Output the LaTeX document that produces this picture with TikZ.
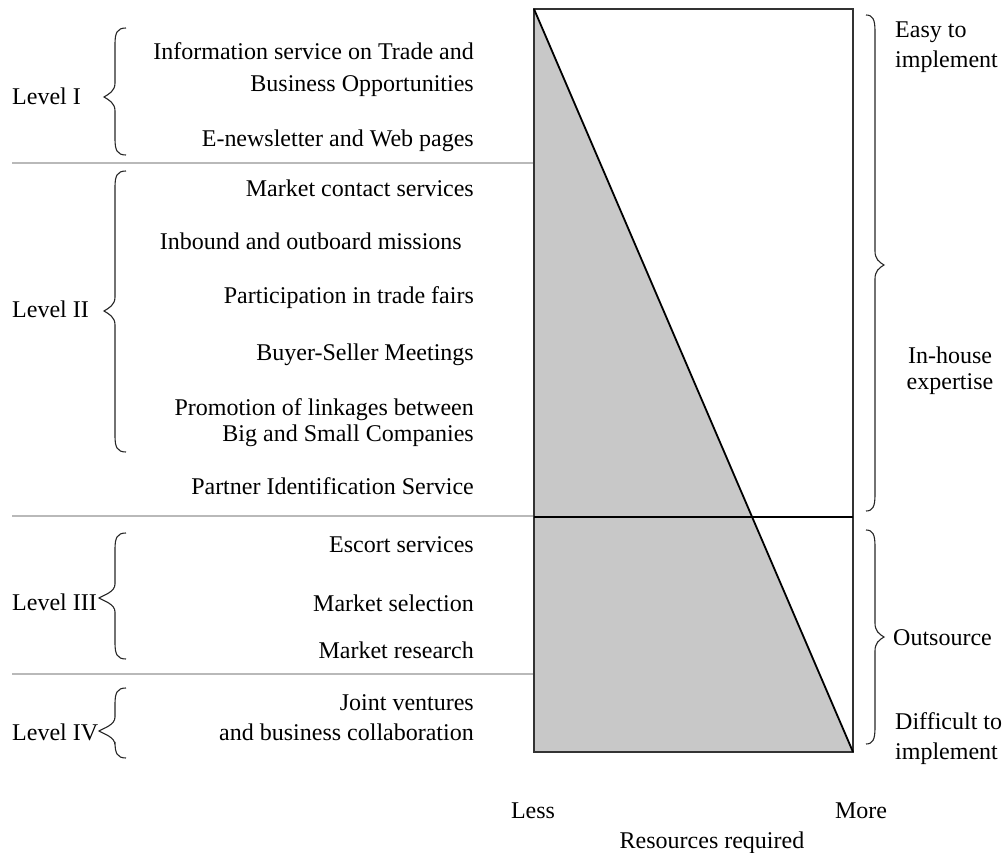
\documentclass[tikz,border=0pt]{standalone}
\usepackage{fontspec}
\setmainfont{Liberation Serif}
\definecolor{tri}{RGB}{200,200,200}
\definecolor{sep}{RGB}{185,185,185}
% brace: xhook xline xtip ytop ytip ybot
\newcommand{\LeftBr}[6]{%
  \draw[brc] (#1,#4) .. controls (#2+2,#4) and (#2,#4+5) .. (#2,#4+16) -- (#2,#5-14)
    .. controls (#2,#5-6) and (#3+5,#5-3) .. (#3,#5)
    .. controls (#3+5,#5+3) and (#2,#5+6) .. (#2,#5+14)
    -- (#2,#6-16) .. controls (#2,#6-5) and (#2+2,#6) .. (#1,#6);}
\newcommand{\RightBr}[6]{%
  \draw[brc] (#1,#4) .. controls (#2-2,#4) and (#2,#4+5) .. (#2,#4+16) -- (#2,#5-14)
    .. controls (#2,#5-6) and (#3-5,#5-3) .. (#3,#5)
    .. controls (#3-5,#5+3) and (#2,#5+6) .. (#2,#5+14)
    -- (#2,#6-16) .. controls (#2,#6-5) and (#2-2,#6) .. (#1,#6);}
\begin{document}
\begin{tikzpicture}[x=1pt,y=-1pt,
  txt/.style={inner sep=0pt,font=\fontsize{24}{28}\selectfont},
  item/.style={txt,anchor=base east},
  lvl/.style={txt,anchor=base west},
  rlab/.style={txt,anchor=base west},
  brc/.style={draw=black!85,line width=1.1pt},
  seprule/.style={draw=sep,line width=1.4pt},
  frame/.style={draw=black!80,line width=1.5pt}]
\useasboundingbox (0,0) rectangle (1005,853);
% box corners
\coordinate (TL) at (534,9);
\coordinate (TR) at (853,9);
\coordinate (BL) at (534,752);
\coordinate (BR) at (853,752);
\coordinate (ML) at (534,517);
\coordinate (MR) at (853,517);
% triangle
\fill[tri] (TL) -- (BL) -- (BR) -- cycle;
% separators
\coordinate (s1a) at (12,163); \coordinate (s1b) at (534,163);
\coordinate (s2a) at (12,516); \coordinate (s2b) at (534,516);
\coordinate (s3a) at (12,674); \coordinate (s3b) at (534,674);
\draw[seprule] (s1a) -- (s1b);
\draw[seprule] (s2a) -- (s2b);
\draw[seprule] (s3a) -- (s3b);
% frame
\draw[frame] (TL) rectangle (BR);
\draw[draw=black,line width=1.6pt] (ML) -- (MR);
\draw[draw=black,line width=1.8pt] (TL) -- (BR);
% left items
\node[item] (i1) at (474,60) {Information service on Trade and};
\node[item] (i2) at (474,92) {Business Opportunities};
\node[item] (i3) at (474,147) {E-newsletter and Web pages};
\node[item] (i4) at (474,197) {Market contact services};
\node[item] (i5) at (462,250) {Inbound and outboard missions};
\node[item] (i6) at (474,304) {Participation in trade fairs};
\node[item] (i7) at (474,360) {Buyer-Seller Meetings};
\node[item] (i8) at (474,415) {Promotion of linkages between};
\node[item] (i9) at (474,441) {Big and Small Companies};
\node[item] (i10) at (474,494) {Partner Identification Service};
\node[item] (i11) at (474,552) {Escort services};
\node[item] (i12) at (474,611) {Market selection};
\node[item] (i13) at (474,658) {Market research};
\node[item] (i14) at (474,710) {Joint ventures};
\node[item] (i15) at (474,740) {and business collaboration};
% levels
\node[lvl] (L1) at (12,105) {Level I};
\node[lvl] (L2) at (12,318) {Level II};
\node[lvl] (L3) at (12,610) {Level III};
\node[lvl] (L4) at (12,740) {Level IV};
% left braces
\LeftBr{126}{115}{104}{28}{97}{155}
\LeftBr{126}{115}{104}{171}{311}{452}
\LeftBr{126}{115}{99}{533}{598}{659}
\LeftBr{126}{115}{99}{688}{731}{758}
% right braces
\RightBr{866}{875}{884}{15}{265}{511}
\RightBr{866}{875}{884}{530}{637}{744}
% right labels
\node[rlab] (r1) at (895,38) {Easy to};
\node[rlab] (r2) at (895,68) {implement};
\node[txt,anchor=base] (r3) at (950,363) {In-house};
\node[txt,anchor=base] (r4) at (950,389) {expertise};
\node[rlab] (r5) at (893,645) {Outsource};
\node[rlab] (r6) at (895,729) {Difficult to};
\node[rlab] (r7) at (895,759) {implement};
% axis
\node[txt,anchor=base] (less) at (533,818) {Less};
\node[txt,anchor=base] (more) at (861,818) {More};
\node[txt,anchor=base] (res) at (712,848) {Resources required};
\end{tikzpicture}
\end{document}
